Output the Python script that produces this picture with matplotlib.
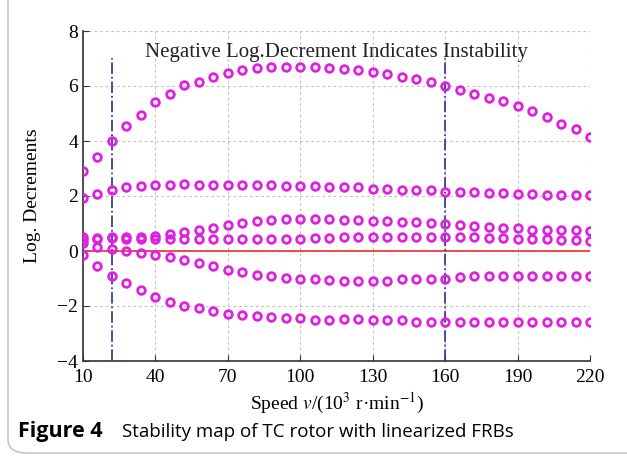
import numpy as np
import matplotlib
matplotlib.use("Agg")
import matplotlib.pyplot as plt
from matplotlib.patches import FancyBboxPatch

plt.rcParams['font.family'] = 'Liberation Serif'
plt.rcParams['mathtext.fontset'] = 'stix'

# speed values (10^3 r/min)
speed = np.arange(10, 221, 6)

# log. decrements of the six modes
mode1 = [2.90, 3.42, 4.00, 4.53, 4.96, 5.40, 5.72, 6.05, 6.15, 6.33, 6.49, 6.57,
         6.65, 6.69, 6.69, 6.69, 6.69, 6.65, 6.61, 6.57, 6.51, 6.45, 6.33, 6.24,
         6.15, 6.00, 5.84, 5.72, 5.58, 5.44, 5.27, 5.08, 4.87, 4.63, 4.45, 4.15]
mode2 = [1.94, 2.06, 2.21, 2.31, 2.35, 2.41, 2.41, 2.45, 2.39, 2.39, 2.39, 2.39,
         2.39, 2.39, 2.35, 2.35, 2.35, 2.31, 2.31, 2.31, 2.27, 2.25, 2.21, 2.21,
         2.21, 2.15, 2.15, 2.15, 2.11, 2.11, 2.09, 2.06, 2.05, 2.05, 2.03, 2.03]
mode3 = [0.50, 0.48, 0.52, 0.50, 0.50, 0.54, 0.60, 0.68, 0.75, 0.82, 0.93, 1.02,
         1.08, 1.11, 1.17, 1.17, 1.17, 1.15, 1.12, 1.12, 1.08, 1.08, 1.06, 1.04,
         1.02, 0.99, 0.93, 0.91, 0.87, 0.84, 0.82, 0.78, 0.78, 0.77, 0.75, 0.73]
mode4 = [0.41, 0.45, 0.47, 0.45, 0.45, 0.45, 0.44, 0.43, 0.43, 0.43, 0.43, 0.43,
         0.43, 0.43, 0.43, 0.44, 0.46, 0.48, 0.50, 0.50, 0.50, 0.50, 0.50, 0.50,
         0.50, 0.50, 0.50, 0.50, 0.49, 0.47, 0.45, 0.43, 0.42, 0.40, 0.39, 0.38]
mode5 = [0.29, 0.13, 0.07, 0.01, -0.07, -0.13, -0.23, -0.32, -0.44, -0.53, -0.68, -0.78,
         -0.87, -0.92, -0.98, -1.02, -1.02, -1.05, -1.08, -1.08, -1.08, -1.08, -1.02, -1.02,
         -1.02, -1.02, -0.96, -0.92, -0.92, -0.92, -0.92, -0.92, -0.92, -0.92, -0.92, -0.90]
mode6 = [-0.15, -0.53, -0.92, -1.18, -1.42, -1.66, -1.84, -1.99, -2.08, -2.17, -2.29, -2.33,
         -2.38, -2.41, -2.45, -2.45, -2.50, -2.50, -2.47, -2.47, -2.50, -2.50, -2.50, -2.59,
         -2.59, -2.59, -2.59, -2.59, -2.59, -2.59, -2.59, -2.59, -2.59, -2.59, -2.59, -2.59]
modes = [mode1, mode2, mode3, mode4, mode5, mode6]

# critical speeds marked with dash-dot lines
crit_speeds = [22, 160]

xticks = [10, 40, 70, 100, 130, 160, 190, 220]
yticks = [-4, -2, 0, 2, 4, 6, 8]

fig = plt.figure(figsize=(6.27, 4.57), dpi=100)

# rounded frame around figure + caption (right and top run off the page)
frame = FancyBboxPatch((8 / 627, 4 / 457), 1.2, 1.2,
                       boxstyle="round,pad=0,rounding_size=0.03",
                       transform=fig.transFigure, facecolor='none',
                       edgecolor='#bdbdbd', linewidth=1.0)
fig.patches.append(frame)

ax = fig.add_axes([83 / 627, 1 - 361 / 457, 507 / 627, 330 / 457])

ax.grid(True, color='#c4c4c4', linestyle=(0, (2.5, 2.5)), linewidth=0.8)
ax.axhline(0, color='#f03c3c', linewidth=1.3, zorder=2)
for cs in crit_speeds:
    ax.plot([cs, cs], [-4, 7], color='#3a3f9a', linestyle='-.', linewidth=1.3, zorder=2)

for m in modes:
    ax.plot(speed, m, 'o', markerfacecolor='none', markeredgecolor='#e020e0',
            markersize=5.5, markeredgewidth=2.0, linestyle='none', zorder=3)

ax.set_xlim(10, 220)
ax.set_ylim(-4, 8)
ax.set_xticks(xticks)
ax.set_yticks(yticks)
ax.tick_params(direction='in', labelsize=14, length=4, color='#333333')
ax.tick_params(axis='x', pad=6)
ax.spines['top'].set_visible(False)
ax.spines['right'].set_visible(False)
for s in ['left', 'bottom']:
    ax.spines[s].set_color('#333333')
    ax.spines[s].set_linewidth(1.2)

ax.text(0.5, 0.965, 'Negative Log.Decrement Indicates Instability', transform=ax.transAxes,
        ha='center', va='top', fontsize=15, color='#222222')
ax.set_ylabel('Log. Decrements', fontsize=14, labelpad=12)
ax.set_xlabel(r'Speed $\it{v}$/(10$^{3}$ r·min$^{-1}$)', fontsize=14, labelpad=3)

fig.text(18 / 627, 1 - 432 / 457, 'Figure 4', fontfamily='Open Sans', fontweight='bold',
         fontsize=15.5, va='center', ha='left')
fig.text(122 / 627, 1 - 432 / 457, 'Stability map of TC rotor with linearized FRBs',
         fontfamily='Open Sans', fontsize=13.5, va='center', ha='left')

fig.savefig('out.png', dpi=100)
